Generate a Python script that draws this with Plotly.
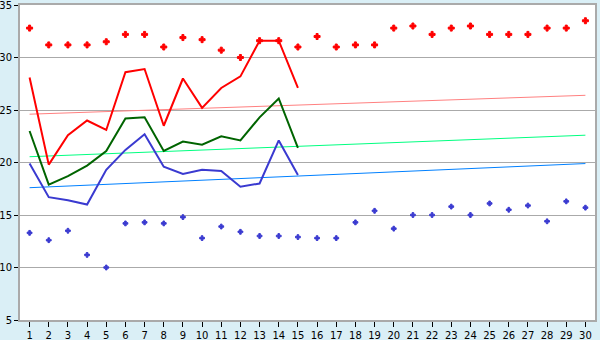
import plotly.graph_objects as go

days = list(range(1, 31))
line_days = list(range(1, 16))

red_points = [32.8, 31.2, 31.2, 31.2, 31.5, 32.2, 32.2, 31.0, 31.9, 31.7,
              30.7, 30.0, 31.6, 31.6, 31.0, 32.0, 31.0, 31.2, 31.2, 32.8,
              33.0, 32.2, 32.8, 33.0, 32.2, 32.2, 32.2, 32.8, 32.8, 33.5]
blue_points = [13.3, 12.6, 13.5, 11.2, 10.0, 14.2, 14.3, 14.2, 14.8, 12.8,
               13.9, 13.4, 13.0, 13.0, 12.9, 12.8, 12.8, 14.3, 15.4, 13.7,
               15.0, 15.0, 15.8, 15.0, 16.1, 15.5, 15.9, 14.4, 16.3, 15.7]
red_line = [28.1, 19.8, 22.6, 24.0, 23.1, 28.6, 28.9, 23.5, 28.0, 25.2,
            27.1, 28.2, 31.6, 31.6, 27.1]
green_line = [23.0, 17.9, 18.7, 19.7, 21.1, 24.2, 24.3, 21.1, 22.0, 21.7,
              22.5, 22.1, 24.3, 26.1, 21.4]
blue_line = [19.9, 16.7, 16.4, 16.0, 19.3, 21.2, 22.7, 19.6, 18.9, 19.3,
             19.2, 17.7, 18.0, 22.1, 18.8]
trend_x = [1, 30]
red_trend = [24.6, 26.4]
green_trend = [20.55, 22.6]
blue_trend = [17.6, 19.9]

fig = go.Figure()
fig.add_trace(go.Scatter(x=trend_x, y=red_trend, mode="lines",
                         line=dict(color="#FF8080", width=1)))
fig.add_trace(go.Scatter(x=trend_x, y=green_trend, mode="lines",
                         line=dict(color="#00FF80", width=1)))
fig.add_trace(go.Scatter(x=trend_x, y=blue_trend, mode="lines",
                         line=dict(color="#0080FF", width=1)))
fig.add_trace(go.Scatter(x=line_days, y=blue_line, mode="lines",
                         line=dict(color="#3A3AD0", width=2)))
fig.add_trace(go.Scatter(x=line_days, y=green_line, mode="lines",
                         line=dict(color="#006400", width=2)))
fig.add_trace(go.Scatter(x=line_days, y=red_line, mode="lines",
                         line=dict(color="#FF0000", width=2)))
fig.add_trace(go.Scatter(x=days, y=red_points, mode="markers",
                         marker=dict(symbol="cross", size=5, color="#FF0000",
                                     line=dict(width=1, color="#FF0000"))))
fig.add_trace(go.Scatter(x=days, y=blue_points, mode="markers",
                         marker=dict(symbol="cross", size=4, color="#3A3AD0",
                                     line=dict(width=1, color="#3A3AD0"))))

axis_font = dict(family="DejaVu Sans", size=10, color="#000000")
fig.update_layout(
    width=600, height=340,
    margin=dict(l=20, r=5, t=5, b=20),
    paper_bgcolor="#DAEFF6",
    plot_bgcolor="#FFFFFF",
    showlegend=False,
    xaxis=dict(range=[0.5, 30.5], tickvals=days, ticktext=[str(d) for d in days],
               showgrid=False, zeroline=False, ticks="outside", ticklen=5,
               tickcolor="#000000", showline=True, linecolor="#AAAAAA",
               linewidth=2, mirror=True, tickfont=axis_font, automargin=False,
               ticklabeloverflow="allow"),
    yaxis=dict(range=[5, 35], dtick=5, showgrid=True, gridcolor="#AAAAAA",
               gridwidth=1, zeroline=False, ticks="outside", ticklen=4,
               tickcolor="#000000", showline=True, linecolor="#AAAAAA",
               linewidth=2, mirror=True, tickfont=axis_font, automargin=False,
               ticklabeloverflow="allow"),
)

fig.write_html("out.html")
